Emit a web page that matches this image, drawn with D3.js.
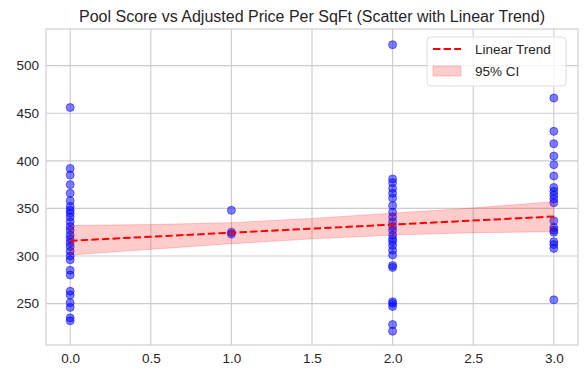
<!DOCTYPE html>
<html>
<head>
<meta charset="utf-8">
<script src="https://cdn.jsdelivr.net/npm/d3@7"></script>
<style>
  body { margin: 0; background: #fff; }
  text { font-family: "Liberation Sans", Arial, sans-serif; fill: #262626; }
</style>
</head>
<body>
<div id="chart"></div>
<script>
// pool score per listing and its adjusted price per sqft
var pool0 = [456, 392, 385, 375, 366, 358, 352, 348, 345, 341, 336, 331, 327, 322, 318, 314, 310, 305, 300, 296, 285, 280, 263, 259, 251, 246, 235, 232];
var pool1 = [348, 325, 323];
var pool2 = [522, 381, 377, 371, 366, 361, 353, 346, 341, 336, 331, 327, 322, 318, 315, 311, 306, 301, 290, 288, 252, 250, 247, 228, 221];
var pool3 = [466, 431, 418, 405, 396, 384, 372, 368, 364, 360, 356, 337, 330, 327, 325, 315, 312, 308, 254];

// trend line and 95% band
var trendX = [0, 3];
var trendY = [316, 341.5];
var ciX = [0, 0.5, 1, 1.5, 2, 2.5, 3];
var ciLow = [301, 307, 313, 318, 322, 324.5, 325.5];
var ciHigh = [332, 333, 335, 339.5, 345, 350.5, 357];

var xTicks = [0, 0.5, 1, 1.5, 2, 2.5, 3];
var yTicks = [250, 300, 350, 400, 450, 500];

var points = [];
[pool0, pool1, pool2, pool3].forEach(function(arr, i){
	arr.forEach(function(v){ points.push({x: i, y: v}); });
});

var W = 584, H = 383;
var m = {left: 46, right: 6, top: 29, bottom: 38};

var svg = d3.select("#chart").append("svg")
	.attr("width", W).attr("height", H);

var x = d3.scaleLinear().domain([-0.15, 3.15]).range([m.left, W - m.right]);
var y = d3.scaleLinear().domain([206.5, 538.5]).range([H - m.bottom, m.top]);

// grid
svg.append("g").selectAll("line.gx").data(xTicks).enter().append("line")
	.attr("x1", function(d){ return x(d); }).attr("x2", function(d){ return x(d); })
	.attr("y1", m.top).attr("y2", H - m.bottom)
	.style("stroke", "#cccccc").style("stroke-width", 1.1);
svg.append("g").selectAll("line.gy").data(yTicks).enter().append("line")
	.attr("y1", function(d){ return y(d); }).attr("y2", function(d){ return y(d); })
	.attr("x1", m.left).attr("x2", W - m.right)
	.style("stroke", "#cccccc").style("stroke-width", 1.1);

// axes (labels only, seaborn whitegrid has no tick marks)
var xAxis = svg.append("g").attr("transform", "translate(0," + (H - m.bottom) + ")")
	.call(d3.axisBottom(x).tickValues(xTicks).tickFormat(d3.format(".1f")).tickSize(0).tickPadding(8));
var yAxis = svg.append("g").attr("transform", "translate(" + m.left + ",0)")
	.call(d3.axisLeft(y).tickValues(yTicks).tickSize(0).tickPadding(7));
[xAxis, yAxis].forEach(function(a){
	a.select(".domain").remove();
	a.selectAll("text").style("font-size", "13.5px").style("fill", "#262626")
		.style("font-family", "Liberation Sans, Arial, sans-serif");
});

// frame
svg.append("rect")
	.attr("x", m.left).attr("y", m.top)
	.attr("width", W - m.left - m.right).attr("height", H - m.top - m.bottom)
	.style("fill", "none").style("stroke", "#cccccc").style("stroke-width", 1.1);

// scatter
svg.append("g").selectAll("circle").data(points).enter().append("circle")
	.attr("cx", function(d){ return x(d.x); })
	.attr("cy", function(d){ return y(d.y); })
	.attr("r", 4)
	.style("fill", "blue").style("fill-opacity", 0.5)
	.style("stroke", "blue").style("stroke-opacity", 0.5).style("stroke-width", 1);

// CI band
var band = ciX.map(function(v, i){ return {x: v, lo: ciLow[i], hi: ciHigh[i]}; });
svg.append("path").datum(band)
	.attr("d", d3.area()
		.x(function(d){ return x(d.x); })
		.y0(function(d){ return y(d.lo); })
		.y1(function(d){ return y(d.hi); }))
	.style("fill", "red").style("fill-opacity", 0.2)
	.style("stroke", "red").style("stroke-opacity", 0.2).style("stroke-width", 1);

// trend
var trend = trendX.map(function(v, i){ return {x: v, y: trendY[i]}; });
svg.append("path").datum(trend)
	.attr("d", d3.line().x(function(d){ return x(d.x); }).y(function(d){ return y(d.y); }))
	.style("fill", "none").style("stroke", "red").style("stroke-width", 2)
	.style("stroke-dasharray", "7.4,3.2");

// title
svg.append("text")
	.attr("x", (m.left + W - m.right) / 2).attr("y", 22)
	.attr("text-anchor", "middle")
	.style("font-size", "16px")
	.text("Pool Score vs Adjusted Price Per SqFt (Scatter with Linear Trend)");

// legend
var lg = svg.append("g").attr("transform", "translate(427,37)");
lg.append("rect").attr("width", 139).attr("height", 49).attr("rx", 4)
	.style("fill", "white").style("fill-opacity", 0.8)
	.style("stroke", "#dddddd").style("stroke-width", 1);
lg.append("line").attr("x1", 6).attr("x2", 34).attr("y1", 12).attr("y2", 12)
	.style("stroke", "red").style("stroke-width", 2).style("stroke-dasharray", "7.4,3.2");
lg.append("rect").attr("x", 6).attr("y", 29).attr("width", 28).attr("height", 10)
	.style("fill", "red").style("fill-opacity", 0.2)
	.style("stroke", "red").style("stroke-opacity", 0.2);
lg.append("text").attr("x", 48).attr("y", 17).style("font-size", "13.5px").text("Linear Trend");
lg.append("text").attr("x", 48).attr("y", 39).style("font-size", "13.5px").text("95% CI");
</script>
</body>
</html>
